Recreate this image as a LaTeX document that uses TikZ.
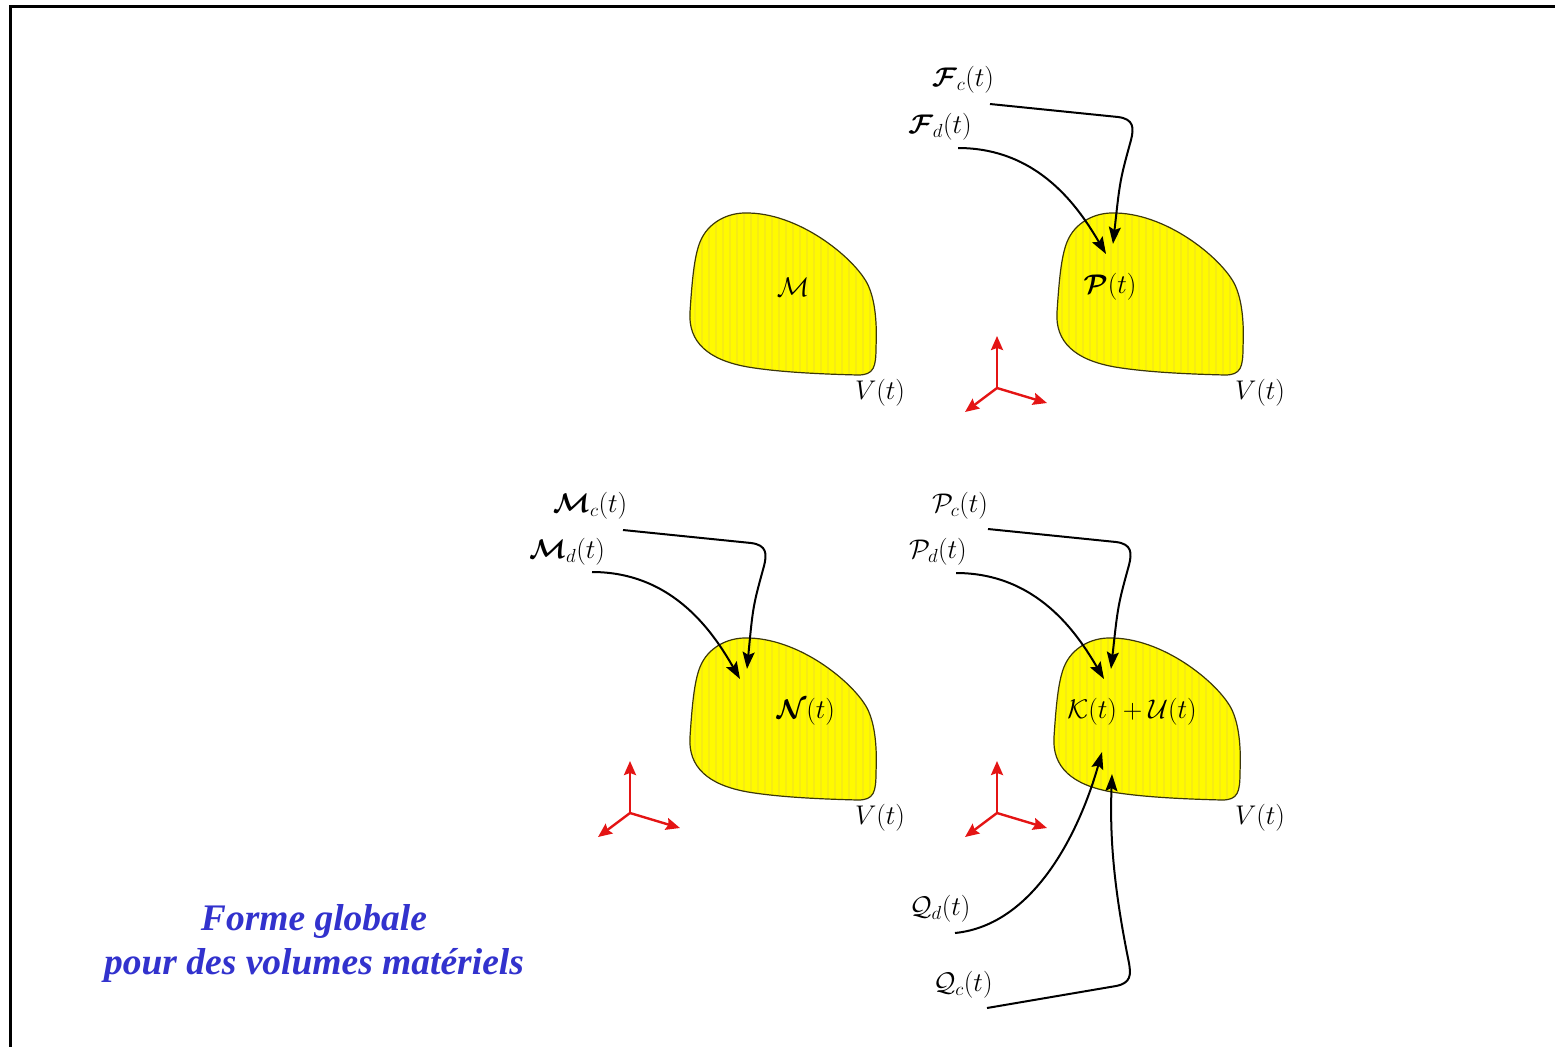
\RequirePackage{fix-cm}
\documentclass[tikz,border=0pt]{standalone}
\usepackage{amsmath,bm}
\usepackage{fontspec}
\newfontfamily\titlefont{Liberation Serif}
\usetikzlibrary{arrows.meta}
\definecolor{blobyellow}{RGB}{255,250,0}
\definecolor{blobstripe}{RGB}{246,236,20}
\definecolor{blobline}{RGB}{60,55,10}
\definecolor{axisred}{RGB}{228,20,20}
\definecolor{titleblue}{RGB}{50,50,205}
\begin{document}
\begin{tikzpicture}[x=1pt,y=-1pt,
  lbl/.style={inner sep=1pt,font=\fontsize{27}{32}\selectfont},
  arr/.style={line width=2pt,-{Stealth[length=17pt,width=12pt,inset=3pt]}},
  axarr/.style={draw=axisred,line width=2.4pt,-{Stealth[length=14pt,width=12pt,inset=2pt]}},
  frameline/.style={line width=3pt,black}]
\useasboundingbox (0,0) rectangle (1555,1047);
% frame
\draw[frameline] (1555,6) -- (10,6) -- (10,1047);
% blobs
\foreach \bx/\by in {688/212,1055/212,688/637,1052/637}{
  \begin{scope}[shift={(\bx,\by)}]
    \fill[blobyellow] (57,1) .. controls (110,0) and (165,45) .. (179,71)
      .. controls (188,88) and (189,115) .. (188,135)
      .. controls (188,155) and (186,163) .. (170,163)
      .. controls (130,162) and (90,160) .. (60,155)
      .. controls (20,148) and (0,130) .. (2,100)
      .. controls (4,70) and (6,45) .. (12,30)
      .. controls (20,10) and (40,1) .. (57,1) -- cycle;
    \begin{scope}
      \clip (57,1) .. controls (110,0) and (165,45) .. (179,71)
      .. controls (188,88) and (189,115) .. (188,135)
      .. controls (188,155) and (186,163) .. (170,163)
      .. controls (130,162) and (90,160) .. (60,155)
      .. controls (20,148) and (0,130) .. (2,100)
      .. controls (4,70) and (6,45) .. (12,30)
      .. controls (20,10) and (40,1) .. (57,1) -- cycle;
      \foreach \i in {0,7,...,196} \draw[blobstripe,line width=2pt] (\i,-5) -- (\i,170);
    \end{scope}
    \draw[blobline,line width=1.2pt] (57,1) .. controls (110,0) and (165,45) .. (179,71)
      .. controls (188,88) and (189,115) .. (188,135)
      .. controls (188,155) and (186,163) .. (170,163)
      .. controls (130,162) and (90,160) .. (60,155)
      .. controls (20,148) and (0,130) .. (2,100)
      .. controls (4,70) and (6,45) .. (12,30)
      .. controls (20,10) and (40,1) .. (57,1) -- cycle;
  \end{scope}
}
% texts in blobs
\node[lbl] (M) at (793,287) {$\mathcal{M}$};
\node[lbl] (P) at (1110,287) {$\bm{\mathcal{P}}(t)$};
\node[lbl] (N) at (806,712) {$\bm{\mathcal{N}}(t)$};
\node[lbl] (KU) at (1132,712) {$\mathcal{K}(t)+\mathcal{U}(t)$};
\node[lbl] (V1) at (880,393) {$V(t)$};
\node[lbl] (V2) at (1260,393) {$V(t)$};
\node[lbl] (V3) at (880,818) {$V(t)$};
\node[lbl] (V4) at (1260,818) {$V(t)$};
% outer labels
\node[lbl] (Fc) at (963,80) {$\bm{\mathcal{F}}_c(t)$};
\node[lbl] (Fd) at (940,127) {$\bm{\mathcal{F}}_d(t)$};
\node[lbl] (Mc) at (590,506) {$\bm{\mathcal{M}}_c(t)$};
\node[lbl] (Md) at (567,552) {$\bm{\mathcal{M}}_d(t)$};
\node[lbl] (Pc) at (960,506) {$\mathcal{P}_c(t)$};
\node[lbl] (Pd) at (938,552) {$\mathcal{P}_d(t)$};
\node[lbl] (Qd) at (940,909) {$\mathcal{Q}_d(t)$};
\node[lbl] (Qc) at (963,985) {$\mathcal{Q}_c(t)$};
% arrow endpoints
\coordinate (fcs) at (990,104);  \coordinate (fce) at (1113,244);
\coordinate (fds) at (958,148);  \coordinate (fde) at (1106,254);
\coordinate (mcs) at (623,530);  \coordinate (mce) at (747,669);
\coordinate (mds) at (592,572);  \coordinate (mde) at (740,679);
\coordinate (pcs) at (988,529);  \coordinate (pce) at (1111,669);
\coordinate (pds) at (956,573);  \coordinate (pde) at (1104,679);
\coordinate (qds) at (955,933);  \coordinate (qde) at (1102,752);
\coordinate (qcs) at (987,1008); \coordinate (qce) at (1112,774);
% arrows
\draw[arr] (fcs) -- (1118,117) .. controls (1134,119) and (1134,128) .. (1131,140) .. controls (1120,180) .. (fce);
\draw[arr] (fds) .. controls (1040,148) and (1080,210) .. (fde);
\draw[arr] (mcs) -- (751,543) .. controls (767,545) and (767,554) .. (764,566) .. controls (753,606) .. (mce);
\draw[arr] (mds) .. controls (674,572) and (714,634) .. (mde);
\draw[arr] (pcs) -- (1116,542) .. controls (1132,544) and (1132,553) .. (1129,565) .. controls (1118,605) .. (pce);
\draw[arr] (pds) .. controls (1038,573) and (1078,635) .. (pde);
\draw[arr] (qds) .. controls (1035,925) and (1080,830) .. (qde);
\draw[arr] (qcs) -- (1116,986) .. controls (1131,983) and (1131,975) .. (1129,963) .. controls (1112,880) and (1110,830) .. (qce);
% axes
\foreach \ox/\oy/\nm in {997/388/a,630/813/b,997/813/c}{
  \coordinate (o\nm) at (\ox,\oy);
  \coordinate (u\nm) at (\ox,\oy-52);
  \coordinate (r\nm) at (\ox+50,\oy+15);
  \coordinate (l\nm) at (\ox-32,\oy+24);
  \draw[axarr] (o\nm) -- (u\nm);
  \draw[axarr] (o\nm) -- (r\nm);
  \draw[axarr] (o\nm) -- (l\nm);
}
% title
\node[align=center,text=titleblue,font=\titlefont\bfseries\itshape\fontsize{37.5}{44}\selectfont] (title) at (314,943) {Forme globale\\pour des volumes matériels};
\end{tikzpicture}
\end{document}
